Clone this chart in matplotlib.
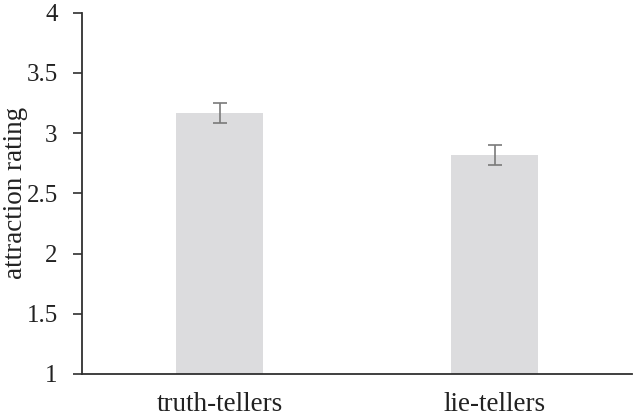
import matplotlib
matplotlib.use("Agg")
import matplotlib.pyplot as plt
import numpy as np

categories = ["truth-tellers", "lie-tellers"]
values = [3.17, 2.82]
errors = [0.082, 0.085]
yticks = [1, 1.5, 2, 2.5, 3, 3.5, 4]
ytick_labels = ["1", "1.5", "2", "2.5", "3", "3.5", "4"]

plt.rcParams['font.family'] = ['Liberation Serif', 'DejaVu Serif']

fig = plt.figure(figsize=(6.36, 4.18), dpi=100)
ax = fig.add_axes([82/636, 44/418, 550/636, 361.3/418])

x = np.arange(len(categories))
ax.bar(x, [v - 1 for v in values], bottom=1, width=0.316, color='#dcdcde',
       yerr=errors, error_kw=dict(ecolor='#7a7a7a', elinewidth=1.2, capsize=5, capthick=1.2))

ax.set_xlim(-0.5, 1.5)
ax.set_ylim(1, 4)
ax.set_yticks(yticks)
ax.set_yticklabels(ytick_labels)
ax.set_xticks(x)
ax.set_xticklabels(categories, fontsize=19.5)
ax.tick_params(axis='y', labelsize=18, direction='out', length=6.5, width=1.2, color='#303030', labelcolor='#222222', pad=11)
ax.tick_params(axis='x', length=0, labelcolor='#222222', pad=13)
for s in ['top', 'right']:
    ax.spines[s].set_visible(False)
for s in ['left', 'bottom']:
    ax.spines[s].set_color('#303030')
    ax.spines[s].set_linewidth(1.3)
ax.set_ylabel("attraction rating", fontsize=19.5, color='#222222')
ax.yaxis.set_label_coords(-0.098, 0.5)

fig.savefig("out.png", dpi=100)
